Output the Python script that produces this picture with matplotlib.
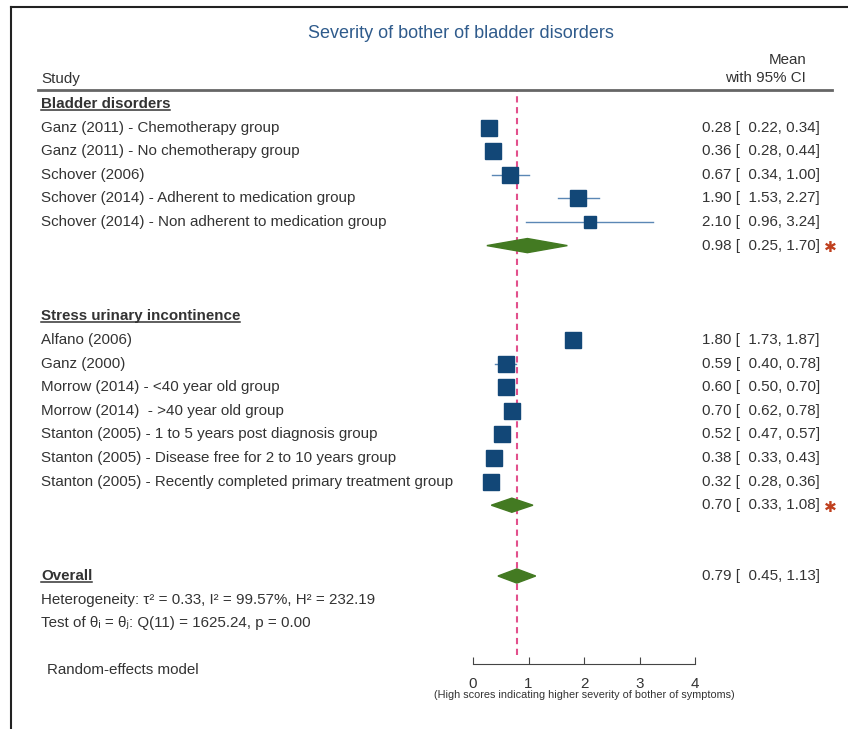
import numpy as np
import matplotlib.pyplot as plt
from matplotlib.lines import Line2D

plt.rcParams['font.family'] = ['Liberation Sans', 'DejaVu Sans']

# ---- data ----
title = "Severity of bother of bladder disorders"

bladder_studies = [
    "Ganz (2011) - Chemotherapy group",
    "Ganz (2011) - No chemotherapy group",
    "Schover (2006)",
    "Schover (2014) - Adherent to medication group",
    "Schover (2014) - Non adherent to medication group",
]
bladder_mean = [0.28, 0.36, 0.67, 1.90, 2.10]
bladder_lo = [0.22, 0.28, 0.34, 1.53, 0.96]
bladder_hi = [0.34, 0.44, 1.00, 2.27, 3.24]
bladder_weight = [9.0, 8.8, 8.6, 8.6, 4.3]
bladder_pooled = (0.98, 0.25, 1.70)

stress_studies = [
    "Alfano (2006)",
    "Ganz (2000)",
    "Morrow (2014) - <40 year old group",
    "Morrow (2014)  - >40 year old group",
    "Stanton (2005) - 1 to 5 years post diagnosis group",
    "Stanton (2005) - Disease free for 2 to 10 years group",
    "Stanton (2005) - Recently completed primary treatment group",
]
stress_mean = [1.80, 0.59, 0.60, 0.70, 0.52, 0.38, 0.32]
stress_lo = [1.73, 0.40, 0.50, 0.62, 0.47, 0.33, 0.28]
stress_hi = [1.87, 0.78, 0.70, 0.78, 0.57, 0.43, 0.36]
stress_weight = [9.0, 8.6, 8.8, 8.6, 8.8, 8.8, 9.0]
stress_pooled = (0.70, 0.33, 1.08)

overall = (0.79, 0.45, 1.13)
het_text = "Heterogeneity: τ² = 0.33, I² = 99.57%, H² = 232.19"
test_text = "Test of θᵢ = θⱼ: Q(11) = 1625.24, p = 0.00"
xticks = [0, 1, 2, 3, 4]
xlabel = "(High scores indicating higher severity of bother of symptoms)"

# ---- style ----
TXT = "#333333"
SQ = "#124777"
CI = "#5b87b5"
DIA = "#437a22"
REF = "#e2508c"
STAR = "#c0401e"
FS = 10.9

W, H = 848, 729
fig = plt.figure(figsize=(W / 100, H / 100), dpi=100)
# forest area: x 0..4 spans px 473..695, rows span px 90..664
ax = fig.add_axes([473 / W, 1 - 664 / H, (695 - 473) / W, (664 - 90) / H])
ax.set_xlim(0, 4)
row_h = 23.6
ax.set_ylim((664 - 104) / row_h, (90 - 104) / row_h)


def px2x(px):
    return (px - 473) / ((695 - 473) / 4)


def px2row(py):
    return (py - 104) / row_h


for s in ["top", "right", "left"]:
    ax.spines[s].set_visible(False)
ax.spines["bottom"].set_color("#444444")
ax.spines["bottom"].set_bounds(0, 4)
ax.set_yticks([])
ax.set_xticks(xticks)
ax.tick_params(axis="x", direction="in", length=5, pad=9, labelsize=FS,
               colors="#444444", labelcolor=TXT)
ax.set_xlabel(xlabel, fontsize=7.8, color=TXT, labelpad=0)

lab_x = px2x(41)
num_x = px2x(820)


def heading(row, text):
    return ax.text(lab_x, row, text, fontsize=FS, fontweight="bold", color=TXT,
                   va="center", ha="left")


def num_str(m, lo, hi):
    return f"{m:.2f} [  {lo:.2f}, {hi:.2f}]"


def study_rows(start, names, means, los, his, weights):
    rows = start + np.arange(len(names))
    for r, n, m, lo, hi, w in zip(rows, names, means, los, his, weights):
        ax.text(lab_x, r, n, fontsize=FS, color=TXT, va="center")
        ax.plot([lo, hi], [r, r], color=CI, lw=1.0, zorder=2, clip_on=False)
        ax.plot(m, r, "s", color=SQ, ms=12.0 * np.sqrt(w / 8.7), zorder=3)
        ax.text(num_x, r, num_str(m, lo, hi), fontsize=FS, color=TXT,
                va="center", ha="right")
    return rows


def diamond(row, est, star=False):
    m, lo, hi = est
    hh = 0.3
    ax.fill([lo, m, hi, m], [row, row - hh, row, row + hh], color=DIA, zorder=3)
    ax.text(num_x, row, num_str(m, lo, hi), fontsize=FS, color=TXT,
            va="center", ha="right")
    if star:
        ax.text(px2x(830), row + 0.08, "✱", fontsize=11, color=STAR,
                family="DejaVu Sans", va="center", ha="center")


headings = [heading(0, "Bladder disorders")]
study_rows(1, bladder_studies, bladder_mean, bladder_lo, bladder_hi, bladder_weight)
diamond(6, bladder_pooled, star=True)

headings.append(heading(9, "Stress urinary incontinence"))
study_rows(10, stress_studies, stress_mean, stress_lo, stress_hi, stress_weight)
diamond(17, stress_pooled, star=True)

headings.append(heading(20, "Overall"))
diamond(20, overall)
ax.text(lab_x, 21, het_text, fontsize=FS, color=TXT, va="center")
ax.text(lab_x, 22, test_text, fontsize=FS, color=TXT, va="center")
ax.text(px2x(47), 24, "Random-effects model", fontsize=FS, color=TXT, va="center")

# reference line at overall estimate
ax.axvline(overall[0], ymin=0.015, ymax=1, color=REF, lw=1.5, ls=(0, (3, 2.2)), zorder=1)

# header
ax.text(px2x(461), px2row(33), title, fontsize=13, color="#2f5b8c",
        ha="center", va="center")
ax.text(lab_x, px2row(79), "Study", fontsize=FS, color=TXT, va="center")
ax.text(px2x(806), px2row(60), "Mean", fontsize=FS, color=TXT,
        va="center", ha="right")
ax.text(px2x(806), px2row(78), "with 95% CI", fontsize=FS, color=TXT,
        va="center", ha="right")
ax.plot([px2x(38), px2x(832)], [px2row(90)] * 2, color="#666666", lw=2,
        clip_on=False)

# underline headings
fig.canvas.draw()
r = fig.canvas.get_renderer()
inv = ax.transData.inverted()
for t in headings:
    bb = t.get_window_extent(renderer=r)
    (x0, y0), (x1, _) = inv.transform([(bb.x0, bb.y0 + 1), (bb.x1, bb.y0 + 1)])
    ax.plot([x0, x1], [y0, y0], color=TXT, lw=1.1, clip_on=False)

# outer frame (top and left edges)
fig.add_artist(Line2D([11 / W, 1], [1 - 7 / H] * 2, color="#222222", lw=1.5))
fig.add_artist(Line2D([11 / W] * 2, [1 - 7 / H, 0], color="#222222", lw=1.5))

fig.savefig("out.png", dpi=100)
